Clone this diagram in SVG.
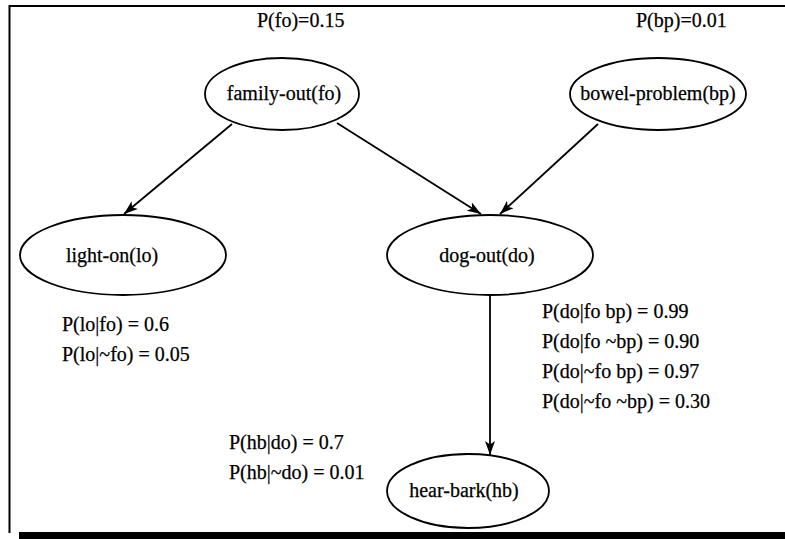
<svg xmlns="http://www.w3.org/2000/svg" width="785" height="539" viewBox="0 0 785 539">
<defs>
<style>
text{font-family:"Liberation Serif","Times New Roman",serif;font-size:20px;fill:#000;stroke:#000;stroke-width:0.25}
.n{text-anchor:middle}
ellipse{fill:#fff;stroke:#000;stroke-width:1.8}
.e{stroke:#000;stroke-width:1.8;fill:none}
.frame{stroke:#000;fill:none}
</style>
<marker id="ah" viewBox="0 0 14 10" refX="14" refY="5" markerWidth="14" markerHeight="10" markerUnits="userSpaceOnUse" orient="auto">
<path d="M0,0 L14,5 L0,10 L3.5,5 Z" fill="#000"/>
</marker>
</defs>
<rect width="785" height="539" fill="#fff"/>
<g id="frame">
<line class="frame" x1="9" y1="6" x2="785" y2="6" stroke-width="2"/>
<line class="frame" x1="9.5" y1="5" x2="9.5" y2="533" stroke-width="2"/>
<rect x="19" y="532" width="766" height="7" fill="#000"/>
</g>
<g id="connectors">
<line class="e" x1="232" y1="124" x2="124" y2="214" marker-end="url(#ah)"/>
<line class="e" x1="337" y1="123" x2="481" y2="214" marker-end="url(#ah)"/>
<line class="e" x1="598" y1="124" x2="500" y2="214" marker-end="url(#ah)"/>
<line class="e" x1="490" y1="296" x2="490" y2="455" marker-end="url(#ah)"/>
</g>
<g id="fo">
<ellipse cx="282" cy="94" rx="77" ry="36"/>
<text class="n" x="284" y="100">family-out(fo)</text>
<text x="257" y="27">P(fo)=0.15</text>
</g>
<g id="bp">
<ellipse cx="658" cy="94" rx="88" ry="36"/>
<text class="n" x="658" y="100">bowel-problem(bp)</text>
<text x="636" y="27">P(bp)=0.01</text>
</g>
<g id="lo">
<ellipse cx="123" cy="255" rx="103" ry="40"/>
<text class="n" x="112" y="262">light-on(lo)</text>
<text x="62" y="331">P(lo|fo) = 0.6</text>
<text x="62" y="361">P(lo|~fo) = 0.05</text>
</g>
<g id="do">
<ellipse cx="490" cy="255" rx="103" ry="40"/>
<text class="n" x="487" y="262">dog-out(do)</text>
<text x="542" y="318">P(do|fo bp) = 0.99</text>
<text x="542" y="348">P(do|fo ~bp) = 0.90</text>
<text x="542" y="378">P(do|~fo bp) = 0.97</text>
<text x="542" y="408">P(do|~fo ~bp) = 0.30</text>
</g>
<g id="hb">
<ellipse cx="468" cy="491" rx="81" ry="37"/>
<text class="n" x="464" y="497">hear-bark(hb)</text>
<text x="229" y="449">P(hb|do) = 0.7</text>
<text x="229" y="479">P(hb|~do) = 0.01</text>
</g>
</svg>
